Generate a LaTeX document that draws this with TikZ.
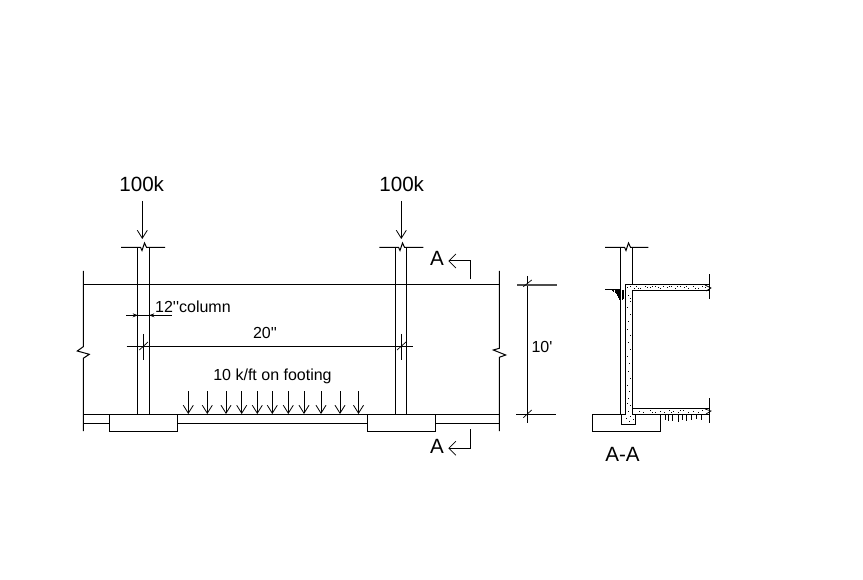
\documentclass[tikz,border=0pt]{standalone}
\usepackage{fontspec}
\newfontfamily\lsf{Liberation Sans}
\usetikzlibrary{arrows.meta}
\tikzset{
  ln/.style={line width=1pt,black,line cap=butt,line join=miter},
  thinln/.style={line width=0.7pt,black},
  load/.style={ln,-{Straight Barb[length=8pt,width=10pt,line width=0.8pt]}},
  sect/.style={ln,-{Straight Barb[length=7pt,width=14pt,line width=0.8pt]}},
  tiny/.style={line width=0.7pt,black,-{Stealth[length=5pt,width=4pt]}},
  small/.style={font=\lsf\fontsize{16}{18}\selectfont,inner sep=0pt,text=black},
  big/.style={font=\lsf\fontsize{20.6}{22}\selectfont,inner sep=0pt,text=black},
  hatch/.style={line width=0.8pt,black},
  dot/.style={fill=black,draw=none}
}
\begin{document}
\begin{tikzpicture}[x=1pt,y=-1pt]
\useasboundingbox (0,0) rectangle (863,580);
\fill[white] (0,0) rectangle (863,580);
% elevation: walls with breaks
\draw[ln] (83.3,271) -- (83.3,346.7) -- (77.3,351) -- (89.3,354.3) -- (83.3,358.3) -- (83.3,431);
\draw[ln] (499.3,271) -- (499.3,348.3) -- (493.3,350) -- (505.7,355) -- (499.3,357.3) -- (499.3,431);
% beam and slab
\draw[ln] (83.3,284.3) -- (499.3,284.3);
\draw[ln] (83.3,414.3) -- (499.3,414.3);
\draw[ln] (83.3,423.3) -- (109.3,423.3);
\draw[ln] (177.3,423.3) -- (367.3,423.3);
\draw[ln] (435.3,423.3) -- (499.3,423.3);
% footings
\draw[ln] (109.3,414.3) rectangle (177.3,431);
\draw[ln] (367.3,414.3) rectangle (435.3,431);
% columns
\draw[ln] (137.7,247.3) -- (137.7,414.3);
\draw[ln] (149.3,247.3) -- (149.3,414.3);
\draw[ln] (395.3,247.3) -- (395.3,414.3);
\draw[ln] (406.3,247.3) -- (406.3,414.3);
\draw[ln] (121,247.3) -- (140.5,247.3) -- (142,250.5) -- (144.5,243) -- (146.5,247.3) -- (165,247.3);
\draw[ln] (379.3,247.3) -- (398.5,247.3) -- (400,250.5) -- (402.5,243) -- (404.5,247.3) -- (423.3,247.3);
% column loads
\coordinate (la1) at (142.3,201); \coordinate (la2) at (142.3,239);
\coordinate (lb1) at (401.3,201); \coordinate (lb2) at (401.3,239);
\draw[load] (la1) -- (la2);
\draw[load] (lb1) -- (lb2);
\node[big] (loadA) at (141.7,184.5) {100k};
\node[big] (loadB) at (401.7,184.5) {100k};
% distributed load
\foreach \x in {188.3,207.3,226,241.7,257.3,272.3,288.3,304,321,340,358.5}
  \draw[load] (\x,391) -- (\x,414);
\node[small] (dist) at (272.5,376) {10 k/ft on footing};
% 12 inch column dimension
\draw[thinln] (126,315.3) -- (171.7,315.3);
\draw[tiny] (131,315.3) -- (137.7,315.3);
\draw[tiny] (156,315.3) -- (149.3,315.3);
\node[small,anchor=west] (colLab) at (155,307) {12''column};
% 20 dimension
\draw[ln] (126.7,346.3) -- (413.3,346.3);
\draw[thinln] (143.3,334) -- (143.3,359.7);
\draw[thinln] (139.3,350) -- (148,342);
\draw[thinln] (401.3,334) -- (401.3,359.7);
\draw[thinln] (397,350) -- (406,342);
\node[small] (spanLab) at (265,333) {20''};
% section marks
\draw[sect] (470.7,279.3) -- (470.7,261) -- (448.3,261);
\draw[sect] (470.7,429.3) -- (470.7,448.3) -- (448.3,448.3);
\node[big] (aTop) at (437,258) {A};
\node[big] (aBot) at (437,446) {A};
% 10 ft dimension
\draw[ln] (527.3,276) -- (527.3,423.3);
\draw[line width=1.2pt,black!70] (517,285) -- (556.7,285);
\draw[ln] (516.3,414.3) -- (556,414.3);
\draw[thinln] (523.3,286.7) -- (531.7,280);
\draw[thinln] (523.3,417.7) -- (531.7,410);
\node[small] (hLab) at (542,347) {10'};
% section A-A
\draw[ln] (605,247.3) -- (624.5,247.3) -- (626,250.5) -- (628.5,243) -- (630.5,247.3) -- (648.3,247.3);
\draw[ln] (620.7,247.3) -- (620.7,414.3);
\draw[ln] (632.3,247.3) -- (632.3,284.3);
\draw[ln] (605,289.8) -- (620.7,289.8);
% footing and key
\draw[ln] (592.3,414.3) rectangle (660.7,431);
\draw[ln,fill=white] (621.7,414.3) rectangle (635.7,424.3);
\draw[line width=1.2pt,white] (626,414.3) -- (632.2,414.3);
% concrete outline
\draw[ln] (709.3,284.3) -- (625.3,284.3) -- (625.3,414.3);
\draw[ln] (709.3,291) -- (632.7,291) -- (632.7,414.3) -- (709.3,414.3);
\draw[ln] (632.7,408.3) -- (709.3,408.3);
\draw[ln] (709.3,274.3) -- (709.3,299.3);
\draw[ln] (709.3,398.3) -- (709.3,422.7);
\draw[thinln] (705,285) -- (711,288) -- (706,291);
\draw[thinln] (705,409) -- (711,411) -- (706,414);
% hatch at beam
\foreach \x/\l in {612/1.5,613.5/2.5,615/3.5,616.5/4.5,617.5/6,618.5/8,619.5/10,620.5/11,622/10,623.5/9}
  \draw[hatch] (\x,289.8) -- (\x,289.8+\l);
% hatch under slab
\foreach \x/\l in {665/6,668.3/7,672.3/7,678.3/8,682.3/6,686.7/7,691.7/6,696.7/5,701.7/6}
  \draw[hatch] (\x,414.3) -- (\x,414.3+\l);
% concrete stipple
\foreach \x/\y in {
 636/287,638/289,640/288.5,645/286.5,647/288,650/288,652/286.5,655/287,658/288,660/289,663/286.5,667/288,669/286.5,671/287,675/288.5,677/287,680/286.5,684/287.5,686/286.5,688/289,693/287,695/289,698/288.5,702/286.5,705/288,
 627/288,630/286.5,634/289,
 628/296,630/299,630/302,627/308,630/315,628/322,627/330,630/336,628/343,630/350,627/357,629/364,628/372,630/378,627/385,629/391,628/398,630/405,627/403,
 628/411,630/416,626.5/418,633/419,629/421,
 639/411,643/412,650/410.5,652/412,655/412,660/411,664/412.5,669/410.5,671/412,673/411.5,678/412,680/410.5,683/410.5,688/412,693/411,698/412,702/410.5}
  \fill[dot] (\x-0.5,\y-0.5) rectangle (\x+0.5,\y+0.5);
\node[big] (secLab) at (622.5,454.5) {A-A};
\end{tikzpicture}
\end{document}
